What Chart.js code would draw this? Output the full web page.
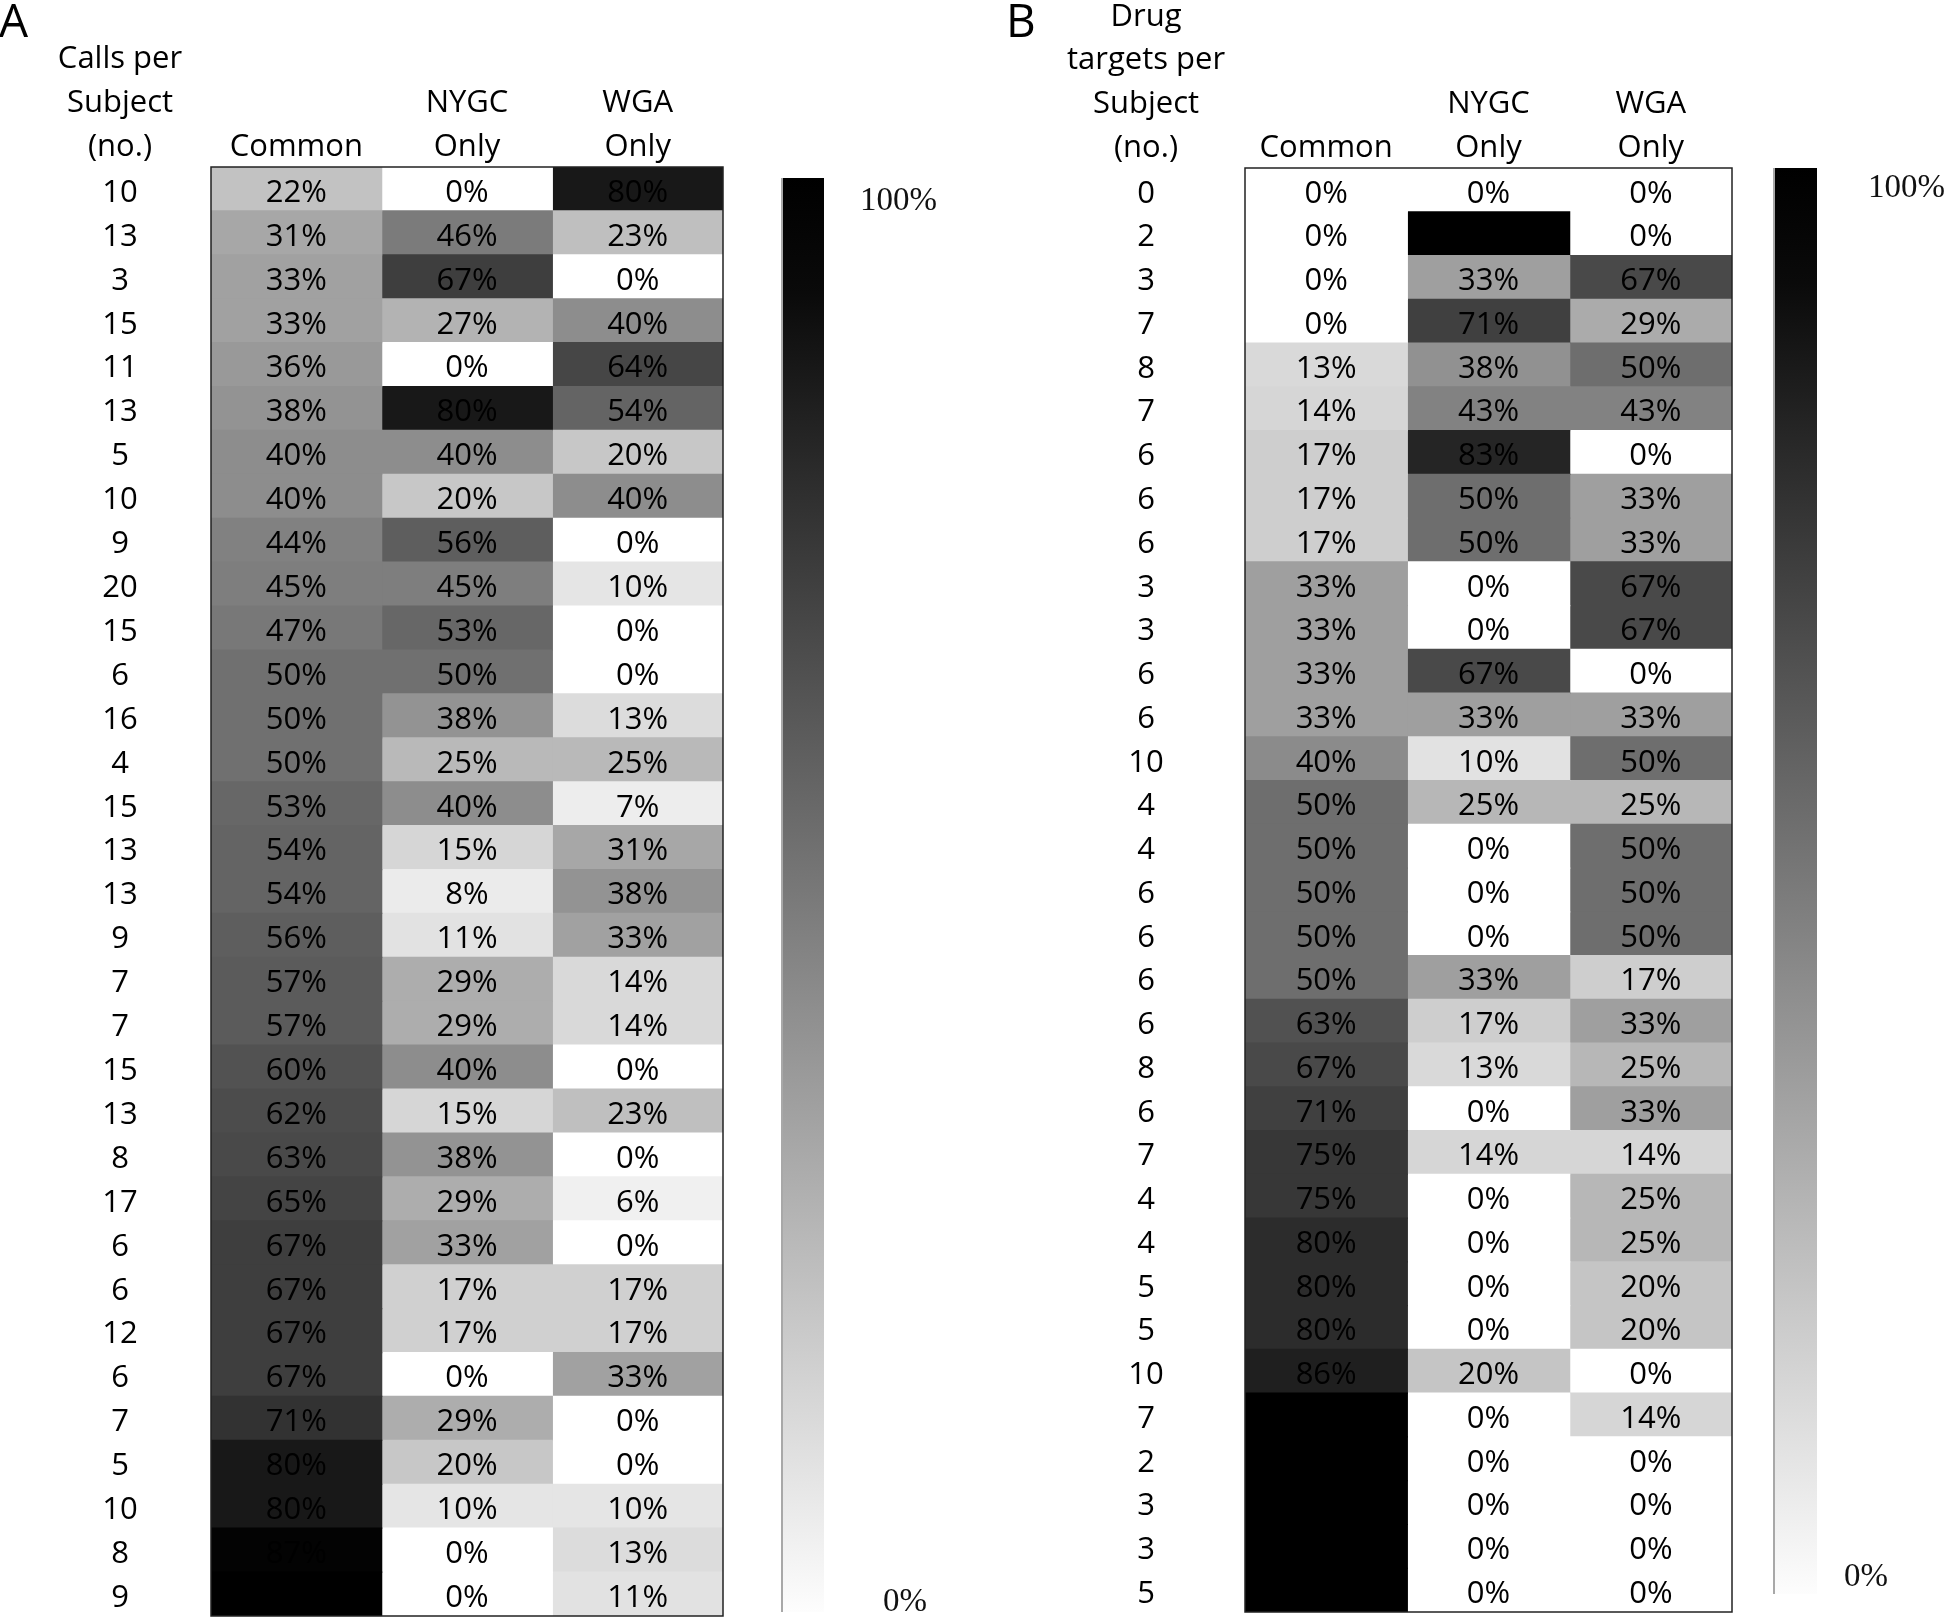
<!DOCTYPE html>
<html>
<head>
<meta charset="utf-8">
<script src="https://cdn.jsdelivr.net/npm/chart.js@4.4.1/dist/chart.umd.min.js"></script>
<style>
  html, body { margin: 0; padding: 0; background: #fff; }
  #wrap { position: relative; width: 1945px; height: 1618px; }
  canvas { position: absolute; left: 0; top: 0; }
</style>
</head>
<body>
<div id="wrap">
  <canvas id="chartA" width="1945" height="1618"></canvas>
  <canvas id="chartB" width="1945" height="1618"></canvas>
</div>
<script>
// column headers (same for both panels)
const columnHeaders = [['Common'], ['NYGC', 'Only'], ['WGA', 'Only']];

// Panel A: calls per subject
const rowTitleA = ['Calls per', 'Subject', '(no.)'];
const rowLabelsA = ['10', '13', '3', '15', '11', '13', '5', '10', '9', '20', '15', '6', '16', '4', '15', '13', '13',
  '9', '7', '7', '15', '13', '8', '17', '6', '6', '12', '6', '7', '5', '10', '8', '9'];
const commonA = [22, 31, 33, 33, 36, 38, 40, 40, 44, 45, 47, 50, 50, 50, 53, 54, 54,
  56, 57, 57, 60, 62, 63, 65, 67, 67, 67, 67, 71, 80, 80, 87, 100];
const nygcA = [0, 46, 67, 27, 0, 80, 40, 20, 56, 45, 53, 50, 38, 25, 40, 15, 8,
  11, 29, 29, 40, 15, 38, 29, 33, 17, 17, 0, 29, 20, 10, 0, 0];
const wgaA = [80, 23, 0, 40, 64, 54, 20, 40, 0, 10, 0, 0, 13, 25, 7, 31, 38,
  33, 14, 14, 0, 23, 0, 6, 0, 17, 17, 33, 0, 0, 10, 13, 11];

// Panel B: drug targets per subject
const rowTitleB = ['Drug', 'targets per', 'Subject', '(no.)'];
const rowLabelsB = ['0', '2', '3', '7', '8', '7', '6', '6', '6', '3', '3', '6', '6', '10', '4', '4', '6',
  '6', '6', '6', '8', '6', '7', '4', '4', '5', '5', '10', '7', '2', '3', '3', '5'];
const commonB = [0, 0, 0, 0, 13, 14, 17, 17, 17, 33, 33, 33, 33, 40, 50, 50, 50,
  50, 50, 63, 67, 71, 75, 75, 80, 80, 80, 86, 100, 100, 100, 100, 100];
const nygcB = [0, 100, 33, 71, 38, 43, 83, 50, 50, 0, 0, 67, 33, 10, 25, 0, 0,
  0, 33, 17, 13, 0, 14, 0, 0, 0, 0, 20, 0, 0, 0, 0, 0];
const wgaB = [0, 0, 67, 29, 50, 43, 0, 33, 33, 67, 67, 0, 33, 50, 25, 50, 50,
  50, 17, 33, 25, 33, 14, 25, 25, 20, 20, 0, 14, 0, 0, 0, 0];

const scaleTicks = ['100%', '0%'];

const FONT = '"Open Sans", sans-serif';

function grey(g) {
  g = Math.max(0, Math.min(255, Math.round(g)));
  return 'rgb(' + g + ',' + g + ',' + g + ')';
}

// panel A scale saturates to black near 88%
function shadeA(v) {
  return grey(258 - 2.93 * v);
}

// panel B scale is softer above the midpoint
function shadeB(v) {
  return v <= 50 ? grey(255 - 2.9 * v) : grey(110 - 2.2 * (v - 50));
}

const tablePlugin = {
  id: 'tableText',
  afterDatasetsDraw(chart, args, opts) {
    const ctx = chart.ctx;
    const area = chart.chartArea;
    const x = chart.scales.x;
    const y = chart.scales.y;
    const rowH = y.getPixelForValue(1) - y.getPixelForValue(0);
    ctx.save();

    // border
    ctx.strokeStyle = '#222';
    ctx.lineWidth = 1.5;
    ctx.strokeRect(area.left, area.top, area.right - area.left, area.bottom - area.top);

    ctx.fillStyle = '#000';
    ctx.textBaseline = 'middle';
    ctx.textAlign = 'center';
    ctx.font = '31px ' + FONT;

    // cell values
    chart.data.datasets.forEach((ds, i) => {
      ds.values.forEach((v, r) => {
        ctx.fillText(v + '%', x.getPixelForValue(i + 0.5), y.getPixelForValue(r) + 4);
      });
    });

    // row labels
    const labX = area.left - opts.rowLabelOffset;
    chart.data.labels.forEach((lab, r) => {
      ctx.fillText(lab, labX, y.getPixelForValue(r) + 4);
    });

    // headers, bottom aligned on one baseline row
    const lastLineY = area.top - rowH / 2 + 2;
    opts.rowTitle.forEach((line, k) => {
      ctx.fillText(line, labX, lastLineY - (opts.rowTitle.length - 1 - k) * rowH);
    });
    columnHeaders.forEach((lines, i) => {
      lines.forEach((line, k) => {
        ctx.fillText(line, x.getPixelForValue(i + 0.5), lastLineY - (lines.length - 1 - k) * rowH);
      });
    });

    // panel letter
    ctx.textAlign = 'left';
    ctx.textBaseline = 'alphabetic';
    ctx.font = '46px ' + FONT;
    ctx.fillText(opts.letter, opts.letterX, 37);

    // colour bar
    const cb = opts.colorBar;
    const grad = ctx.createLinearGradient(0, cb.top, 0, cb.bottom);
    grad.addColorStop(0, '#000');
    grad.addColorStop(0.08, '#0a0a0a');
    grad.addColorStop(1, '#fdfdfd');
    ctx.fillStyle = grad;
    ctx.fillRect(cb.left, cb.top, cb.right - cb.left, cb.bottom - cb.top);
    ctx.strokeStyle = '#a8a8a8';
    ctx.lineWidth = 2;
    ctx.beginPath();
    ctx.moveTo(cb.left + 1, cb.top);
    ctx.lineTo(cb.left + 1, cb.bottom);
    ctx.stroke();

    ctx.fillStyle = '#111';
    ctx.textBaseline = 'middle';
    ctx.font = '33px "Liberation Serif", serif';
    ctx.fillText(scaleTicks[0], cb.topLabel[0], cb.topLabel[1]);
    ctx.fillText(scaleTicks[1], cb.bottomLabel[0], cb.bottomLabel[1]);
    ctx.restore();
  }
};

function makeTable(id, labels, cols, shade, padding, pluginOpts) {
  const datasets = cols.map((vals, i) => ({
    data: vals.map(() => [i, i + 1]),
    values: vals,
    backgroundColor: vals.map(shade),
    borderWidth: 0,
    inflateAmount: 0.6,
    grouped: false,
    categoryPercentage: 1,
    barPercentage: 1
  }));
  return new Chart(document.getElementById(id), {
    type: 'bar',
    data: { labels: labels, datasets: datasets },
    options: {
      indexAxis: 'y',
      responsive: false,
      animation: false,
      layout: { padding: padding },
      scales: {
        x: { type: 'linear', min: 0, max: 3, display: false },
        y: { type: 'category', display: false }
      },
      plugins: {
        legend: { display: false },
        tooltip: { enabled: false },
        tableText: pluginOpts
      }
    },
    plugins: [tablePlugin]
  });
}

makeTable('chartA', rowLabelsA, [commonA, nygcA, wgaA], shadeA,
  { left: 211, right: 1945 - 723, top: 167, bottom: 2 },
  {
    letter: 'A', letterX: -1, rowTitle: rowTitleA, rowLabelOffset: 91,
    colorBar: { left: 781, right: 824, top: 178, bottom: 1612, topLabel: [860, 201], bottomLabel: [883, 1602] }
  });

makeTable('chartB', rowLabelsB, [commonB, nygcB, wgaB], shadeB,
  { left: 1245, right: 1945 - 1732, top: 168, bottom: 6 },
  {
    letter: 'B', letterX: 1006, rowTitle: rowTitleB, rowLabelOffset: 99,
    colorBar: { left: 1773, right: 1817, top: 168, bottom: 1594, topLabel: [1868, 188], bottomLabel: [1844, 1577] }
  });
</script>
</body>
</html>
